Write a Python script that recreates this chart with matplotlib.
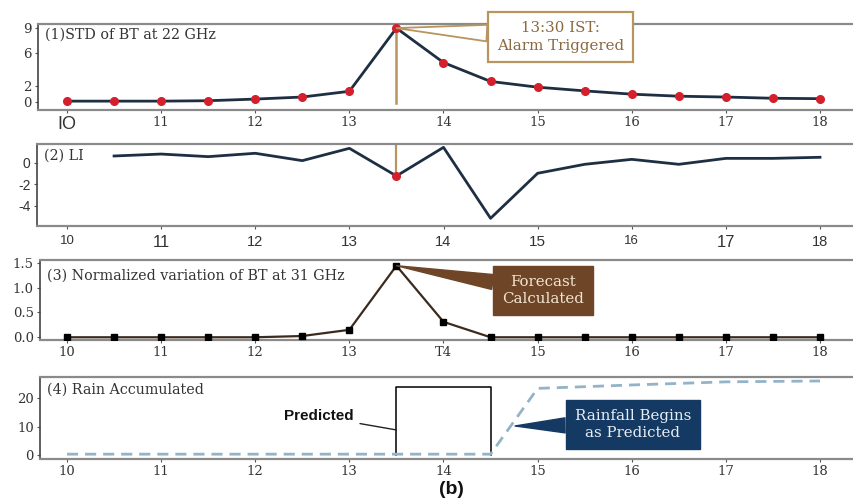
import matplotlib
matplotlib.use("Agg")
import matplotlib.pyplot as plt

# ---------------- data ----------------
hours = [10, 10.5, 11, 11.5, 12, 12.5, 13, 13.5, 14, 14.5, 15, 15.5, 16, 16.5, 17, 17.5, 18]
std_bt22 = [0.1, 0.1, 0.1, 0.15, 0.35, 0.6, 1.3, 9.0, 4.8, 2.5, 1.8, 1.35, 0.95, 0.7, 0.6, 0.45, 0.4]
li_hours = [10.5, 11, 11.5, 12, 12.5, 13, 13.5, 14, 14.5, 15, 15.5, 16, 16.5, 17, 17.5, 18]
li_values = [0.62, 0.8, 0.56, 0.87, 0.19, 1.33, -1.23, 1.42, -5.15, -0.98, -0.15, 0.31, -0.15, 0.4, 0.4, 0.5]
norm_bt31 = [0, 0, 0, 0, 0, 0.025, 0.15, 1.44, 0.31, 0, 0, 0, 0, 0, 0, 0, 0]
rain_hours = [10, 14.5, 15, 16, 17, 18]
rain_values = [0.3, 0.3, 23.4, 24.6, 25.7, 26.0]
pred_hours = [13.5, 14.5]
pred_value = 24

xticks = [10, 11, 12, 13, 14, 15, 16, 17, 18]
xlabels_1 = ["IO", "11", "12", "13", "14", "15", "16", "17", "18"]
xlabels_2 = ["10", "11", "12", "13", "14", "15", "16", "17", "18"]
xlabels_3 = ["10", "11", "12", "13", "T4", "15", "16", "17", "18"]
xlabels_4 = ["10", "11", "12", "13", "14", "15", "16", "17", "18"]
yticks_1 = [0, 2, 6, 9]
yticks_2 = [0, -2, -4]
yticks_3 = [0.0, 0.5, 1.0, 1.5]
yticks_4 = [0, 10, 20]

alarm_time = 13.5

# ---------------- styling ----------------
W, H = 854, 500
SERIF = "DejaVu Serif"
SANS = "Liberation Sans"
TAN = "#B8945E"
NAVY_LINE = "#1E2F44"
RED = "#D3202C"
BROWN = "#6E4526"
NAVY_BOX = "#143A63"
RAIN = "#93B4C8"
SPINE = "#8A8A8A"
TXT = "#333333"

fig = plt.figure(figsize=(W / 100, H / 100), dpi=100)


def make_axes(left_px, top_px, bottom_px):
    x0 = 10 - (67 - left_px) / 94.125
    x1 = 18 + (W - 820) / 94.125
    ax = fig.add_axes([left_px / W, 1 - bottom_px / H, 1 - left_px / W, (bottom_px - top_px) / H])
    ax.set_xlim(x0, x1)
    ax.spines["right"].set_visible(False)
    for s in ("top", "bottom"):
        ax.spines[s].set_color(SPINE)
        ax.spines[s].set_linewidth(1.6)
    ax.spines["left"].set_color("#444444")
    ax.spines["left"].set_linewidth(1.2)
    ax.tick_params(axis="both", length=2.5, width=0.8, colors="#555555", labelcolor=TXT, pad=2)
    ax.set_xticks(xticks)
    return ax


# ---- panel 1 ----
ax1 = make_axes(38, 24, 110)
ax1.set_ylim(-0.98, 9.5)
ax1.plot(hours, std_bt22, color=NAVY_LINE, lw=2.0, zorder=3)
ax1.plot(hours, std_bt22, "o", color=RED, ms=5.5, zorder=4)
ax1.plot([alarm_time, alarm_time], [-0.1, std_bt22[hours.index(alarm_time)]], color=TAN, lw=1.8, zorder=2)
ax1.set_yticks(yticks_1)
ax1.set_yticklabels([str(v) for v in yticks_1], family=SERIF, fontsize=9.5)
ax1.set_xticklabels(xlabels_1, family=SERIF, fontsize=9.5)
lab = ax1.get_xticklabels()[0]
lab.set_family(SANS)
lab.set_fontsize(13)
ax1.text(0.008, 0.88, "(1)STD of BT at 22 GHz", transform=ax1.transAxes, family=SERIF,
         fontsize=10.3, color=TXT, va="center", ha="left")
ax1.annotate("13:30 IST:\nAlarm Triggered", xy=(alarm_time, 9.0), xytext=(15.24, 7.9),
             ha="center", va="center", family=SERIF, fontsize=10.8, color="#8A6A3E",
             linespacing=1.35, annotation_clip=False,
             bbox=dict(boxstyle="square,pad=0.6", fc="white", ec=TAN, lw=1.6),
             arrowprops=dict(arrowstyle="wedge,tail_width=1.1,shrink_factor=0.5", fc="white", ec=TAN,
                             lw=1.3, shrinkA=0, shrinkB=0), zorder=6)

# ---- panel 2 ----
ax2 = make_axes(37, 144, 226)
ax2.set_ylim(-5.86, 1.73)
ax2.plot(li_hours, li_values, color=NAVY_LINE, lw=2.0, zorder=3)
li_alarm = li_values[li_hours.index(alarm_time)]
ax2.plot([alarm_time], [li_alarm], "o", color=RED, ms=5.5, zorder=4)
ax2.plot([alarm_time, alarm_time], [1.73, li_alarm], color=TAN, lw=1.6, zorder=2)
ax2.set_yticks(yticks_2)
ax2.set_yticklabels([str(v) for v in yticks_2], family=SANS, fontsize=10)
ax2.set_xticklabels(xlabels_2, family=SANS, fontsize=10)
sizes2 = [9.5, 12, 10.5, 11, 10.5, 11, 9.5, 12, 10.5]
for lab, s in zip(ax2.get_xticklabels(), sizes2):
    lab.set_fontsize(s)
ax2.tick_params(axis="x", pad=4)
ax2.text(0.008, 0.86, "(2) LI", transform=ax2.transAxes, family=SERIF,
         fontsize=10.3, color=TXT, va="center", ha="left")

# ---- panel 3 ----
ax3 = make_axes(40, 260, 340)
ax3.set_ylim(-0.055, 1.555)
ax3.plot(hours, norm_bt31, color="#3B2A1E", lw=1.6, zorder=3)
ax3.plot(hours, norm_bt31, "s", color="black", ms=5, zorder=4)
ax3.set_yticks(yticks_3)
ax3.set_yticklabels([f"{v:.1f}" for v in yticks_3], family=SERIF, fontsize=9.5)
ax3.set_xticklabels(xlabels_3, family=SERIF, fontsize=9.5)
ax3.text(0.008, 0.80, "(3) Normalized variation of BT at 31 GHz", transform=ax3.transAxes,
         family=SERIF, fontsize=10.3, color=TXT, va="center", ha="left")
ax3.annotate("Forecast\nCalculated", xy=(alarm_time, 1.44), xytext=(15.06, 0.94),
             ha="center", va="center", family=SERIF, fontsize=10.8, color="#F2E6D2",
             linespacing=1.2, annotation_clip=False,
             bbox=dict(boxstyle="square,pad=0.6", fc=BROWN, ec=BROWN, lw=1),
             arrowprops=dict(arrowstyle="wedge,tail_width=1.0,shrink_factor=0.5", fc=BROWN, ec=BROWN,
                             lw=1, shrinkA=0, shrinkB=0), zorder=6)

# ---- panel 4 ----
ax4 = make_axes(40, 377, 459)
ax4.set_ylim(-1.4, 27.4)
ax4.plot(rain_hours, rain_values, color=RAIN, lw=2.0, dashes=(4, 2.5), zorder=3)
ax4.plot([pred_hours[0], pred_hours[0], pred_hours[1], pred_hours[1]], [0, pred_value, pred_value, 0],
         color="black", lw=1.1, zorder=2)
ax4.set_yticks(yticks_4)
ax4.set_yticklabels([str(v) for v in yticks_4], family=SERIF, fontsize=9.5)
ax4.set_xticklabels(xlabels_4, family=SERIF, fontsize=9.5)
ax4.text(0.008, 0.84, "(4) Rain Accumulated", transform=ax4.transAxes, family=SERIF,
         fontsize=10.3, color=TXT, va="center", ha="left")
ax4.annotate("Predicted", xy=(pred_hours[0], 8.8), xytext=(12.67, 13.6),
             ha="center", va="center", family=SANS, fontsize=11, fontweight="bold", color="#111111",
             arrowprops=dict(arrowstyle="-", color="#222222", lw=1.0, shrinkA=3, shrinkB=0))
ax4.annotate("Rainfall Begins\nas Predicted", xy=(14.76, 10.2), xytext=(16.01, 10.7),
             ha="center", va="center", family=SERIF, fontsize=10.8, color="#E9EEF4",
             linespacing=1.2, annotation_clip=False,
             bbox=dict(boxstyle="square,pad=0.6", fc=NAVY_BOX, ec=NAVY_BOX, lw=1),
             arrowprops=dict(arrowstyle="wedge,tail_width=1.0,shrink_factor=0.5", fc=NAVY_BOX, ec=NAVY_BOX,
                             lw=1, shrinkA=0, shrinkB=0), zorder=6)

fig.text(451 / W, 1 - 489 / H, "(b)", family=SANS, fontsize=14, fontweight="bold",
         ha="center", va="center", color="#111111")

fig.savefig("out.png", dpi=100)
